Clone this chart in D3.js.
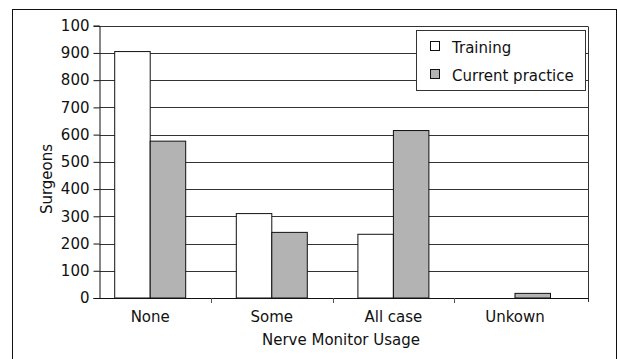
<!DOCTYPE html>
<html>
<head>
    <meta charset="utf-8">
    <title>Nerve Monitor Usage</title>
    <style>
        body { margin: 0; background: #fff; }
        text { font-family: "DejaVu Sans", sans-serif; fill: #111; }
    </style>
</head>
<body>
    <script src="https://d3js.org/d3.v7.min.js"></script>
    <script>
    // data
    const categories = ["None", "Some", "All case", "Unkown"];
    const series = ["Training", "Current practice"];
    const training = [905, 310, 234, 0];
    const current = [576, 241, 615, 17];
    const yTicks = [0, 100, 200, 300, 400, 500, 600, 700, 800, 900, 1000];
    const yTickLabels = ["0", "100", "200", "300", "400", "500", "600", "700", "800", "900", "100"];
    const colors = ["#ffffff", "#b3b3b3"];

    const width = 618;
    const height = 359;
    const fontSize = 15;

    const svg = d3.select("body")
        .append("svg")
        .attr("width", width)
        .attr("height", height);

    // outer frame (bottom runs off the page in the original)
    svg.append("rect")
        .attr("x", 12.5)
        .attr("y", 9.5)
        .attr("width", 604)
        .attr("height", 400)
        .attr("fill", "none")
        .attr("stroke", "#111")
        .attr("stroke-width", 1);

    const plotLeft = 99.5, plotRight = 588, plotTop = 25.7, plotBottom = 298;

    const y = d3.scaleLinear()
        .domain([0, 1000])
        .range([plotBottom, plotTop]);

    // groups are a little off from the axis frame, like the original
    const x0 = d3.scaleBand()
        .domain(categories)
        .range([89.4, 575.8])
        .padding(0);

    const x1 = d3.scaleBand()
        .domain(series)
        .range([0, x0.bandwidth()])
        .paddingInner(0)
        .paddingOuter(0.713);

    // gridlines
    svg.append("g")
        .selectAll("line")
        .data(yTicks)
        .join("line")
        .attr("x1", plotLeft)
        .attr("x2", plotRight)
        .attr("y1", d => Math.round(y(d)) + 0.5)
        .attr("y2", d => Math.round(y(d)) + 0.5)
        .attr("stroke", "#333")
        .attr("stroke-width", 1);

    // right edge of plot
    svg.append("line")
        .attr("x1", plotRight + 0.5)
        .attr("x2", plotRight + 0.5)
        .attr("y1", Math.round(plotTop) + 0.5)
        .attr("y2", plotBottom + 4)
        .attr("stroke", "#333");

    // bars
    const rows = categories.map((c, i) => ({ cat: c, vals: [training[i], current[i]] }));

    const groups = svg.append("g")
        .selectAll("g")
        .data(rows)
        .join("g")
        .attr("transform", d => "translate(" + x0(d.cat) + ",0)");

    groups.selectAll("rect")
        .data(d => d.vals.map((v, j) => ({ s: series[j], v: v, j: j })).filter(e => e.v > 0))
        .join("rect")
        .attr("x", d => x1(d.s))
        .attr("y", d => y(d.v))
        .attr("width", x1.bandwidth())
        .attr("height", d => plotBottom - y(d.v))
        .attr("fill", d => colors[d.j])
        .attr("stroke", "#111")
        .attr("stroke-width", 1);

    // y axis
    const yAxis = svg.append("g")
        .attr("transform", "translate(" + plotLeft + ",0)")
        .call(d3.axisLeft(y)
            .tickValues(yTicks)
            .tickFormat((d, i) => yTickLabels[i])
            .tickSize(6)
            .tickPadding(4));
    yAxis.select(".domain").attr("stroke", "#111");
    yAxis.selectAll(".tick line").attr("stroke", "#111");
    yAxis.selectAll(".tick text")
        .attr("font-size", fontSize)
        .attr("font-family", "DejaVu Sans, sans-serif")
        .attr("fill", "#111");

    // x axis line + separators between groups
    svg.append("line")
        .attr("x1", plotLeft)
        .attr("x2", plotRight + 0.5)
        .attr("y1", plotBottom + 0.5)
        .attr("y2", plotBottom + 0.5)
        .attr("stroke", "#111");

    svg.append("g")
        .selectAll("line")
        .data(categories.slice(1))
        .join("line")
        .attr("x1", d => Math.round(x0(d)) + 0.5)
        .attr("x2", d => Math.round(x0(d)) + 0.5)
        .attr("y1", plotBottom)
        .attr("y2", plotBottom + 5)
        .attr("stroke", "#555");

    svg.append("g")
        .selectAll("text")
        .data(categories)
        .join("text")
        .attr("x", d => x0(d) + x0.bandwidth() / 2)
        .attr("y", 322)
        .attr("text-anchor", "middle")
        .attr("font-size", fontSize)
        .text(d => d);

    // axis titles
    svg.append("text")
        .attr("x", 341)
        .attr("y", 345)
        .attr("text-anchor", "middle")
        .attr("font-size", fontSize)
        .text("Nerve Monitor Usage");

    svg.append("text")
        .attr("transform", "translate(52,179) rotate(-90)")
        .attr("text-anchor", "middle")
        .attr("font-size", fontSize)
        .text("Surgeons");

    // legend
    const legend = svg.append("g");
    legend.append("rect")
        .attr("x", 416.5)
        .attr("y", 30.5)
        .attr("width", 169)
        .attr("height", 60)
        .attr("fill", "#fff")
        .attr("stroke", "#333");

    const items = legend.selectAll("g")
        .data(series)
        .join("g")
        .attr("transform", (d, i) => "translate(0," + (i * 28) + ")");
    items.append("rect")
        .attr("x", 430.5)
        .attr("y", 41.5)
        .attr("width", 9)
        .attr("height", 9)
        .attr("fill", (d, i) => colors[i])
        .attr("stroke", "#111");
    items.append("text")
        .attr("x", 452)
        .attr("y", 52.5)
        .attr("font-size", fontSize)
        .text(d => d);
    </script>
</body>
</html>
